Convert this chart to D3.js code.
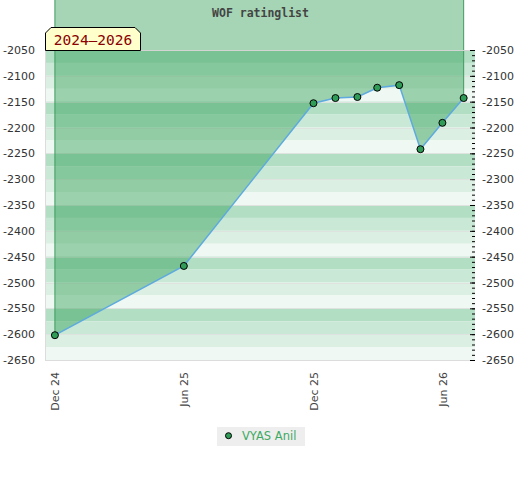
<!DOCTYPE html>
<html><head><meta charset="utf-8">
<script src="https://cdn.jsdelivr.net/npm/d3@7"></script>
<style>
html,body{margin:0;padding:0;background:#fff;}
svg{display:block;}
</style></head>
<body>
<svg id="c" width="520" height="480"></svg>
<script>
// ---- data ----
const dates = ["2024-12-01","2025-06-01","2025-12-01","2026-01-01","2026-02-01","2026-03-01","2026-04-01","2026-05-01","2026-06-01","2026-07-01"];
const values = [-2602,-2468,-2153,-2143,-2141,-2123,-2118,-2242,-2191,-2143];
const seriesName = "VYAS Anil";
const title = "WOF ratinglist";
const rangeLabel = "2024\u20132026";
const xTickDates = ["2024-12-01","2025-06-01","2025-12-01","2026-06-01"];
const xTickLabels = ["Dec 24","Jun 25","Dec 25","Jun 26"];
const yTicks = [-2050,-2100,-2150,-2200,-2250,-2300,-2350,-2400,-2450,-2500,-2550,-2600,-2650];
const xDomain = ["2024-11-17","2026-07-17"];
const yDomain = [-2650,-2050];

const parse = d3.utcParse("%Y-%m-%d");
const data = dates.map((d,i)=>({date:parse(d), v:values[i]}));

const L=45, R=475, T=50, B=360;
const svg = d3.select("#c");
const x = d3.scaleUtc().domain(xDomain.map(parse)).range([L,R]);
const y = d3.scaleLinear().domain(yDomain).range([B,T]);
const fmtY = d => String(d);

// stripes
const stripeCols = ["#b2dec3","#c9e8d5","#dcefe3","#eff8f2"];
const stripes = d3.range(yDomain[1], yDomain[0], -25);
svg.append("g").selectAll("rect").data(stripes).join("rect")
  .attr("x",L).attr("width",R-L)
  .attr("y",d=>y(d)).attr("height",d=>y(d-25)-y(d))
  .attr("fill",(d,i)=>stripeCols[i%4]);

// gridlines
svg.append("g").selectAll("line").data(yTicks).join("line")
  .attr("x1",L).attr("x2",R).attr("y1",d=>Math.round(y(d))+0.5).attr("y2",d=>Math.round(y(d))+0.5)
  .attr("stroke","#dfe3e0").attr("stroke-width",1);

// area fill from line up to the top of the picture
const area = d3.area().x(d=>x(d.date)).y0(0).y1(d=>y(d.v));
svg.append("path").datum(data).attr("d",area)
  .attr("fill","rgb(46,157,83)").attr("fill-opacity",0.43);

// vertical edges
const first = data[0], last = data[data.length-1];
[first,last].forEach(d=>{
  svg.append("line").attr("x1",x(d.date)).attr("x2",x(d.date))
    .attr("y1",0).attr("y2",y(d.v)).attr("stroke","#3f9c5e").attr("stroke-width",1);
});

// plot border
svg.append("line").attr("x1",L).attr("x2",R).attr("y1",T+0.5).attr("y2",T+0.5).attr("stroke","#d4d4d4");
svg.append("line").attr("x1",L).attr("x2",R).attr("y1",B+0.5).attr("y2",B+0.5).attr("stroke","#dcdcdc");
svg.append("line").attr("x1",L+0.5).attr("x2",L+0.5).attr("y1",T).attr("y2",B).attr("stroke","#dcdcdc");

// line
const line = d3.line().x(d=>x(d.date)).y(d=>y(d.v));
svg.append("path").datum(data).attr("d",line)
  .attr("fill","none").attr("stroke","#5eaadf").attr("stroke-width",1.5);

// markers
svg.append("g").selectAll("circle").data(data).join("circle")
  .attr("cx",d=>x(d.date)).attr("cy",d=>y(d.v)).attr("r",3.5)
  .attr("fill","#2f9d58").attr("stroke","#000").attr("stroke-width",1);

// left axis labels
const font = "'DejaVu Sans', sans-serif";
const gl = svg.append("g").attr("transform",`translate(${L},0)`)
  .call(d3.axisLeft(y).tickValues(yTicks).tickSize(0).tickPadding(10).tickFormat(fmtY));
gl.select(".domain").remove();
gl.selectAll("text").attr("fill","#333").style("font-family",font).style("font-size","11px");

// right axis: minor ticks, major ticks, labels
const minor = d3.range(yDomain[1], yDomain[0]-1, -10);
const gm = svg.append("g").attr("transform",`translate(${R},0)`)
  .call(d3.axisLeft(y).tickValues(minor).tickSize(3).tickFormat(""));
gm.select(".domain").remove();
gm.selectAll("line").attr("stroke","#000");
const gM = svg.append("g").attr("transform",`translate(${R},0)`)
  .call(d3.axisLeft(y).tickValues(yTicks).tickSize(5).tickFormat(""));
gM.select(".domain").remove();
gM.selectAll("line").attr("stroke","#000");
const gr = svg.append("g").attr("transform",`translate(${R},0)`)
  .call(d3.axisRight(y).tickValues(yTicks).tickSize(0).tickPadding(7).tickFormat(fmtY));
gr.select(".domain").remove();
gr.selectAll("text").attr("fill","#333").style("font-family",font).style("font-size","11px");

// x axis labels
const gx = svg.append("g").attr("transform",`translate(0,${B})`)
  .call(d3.axisBottom(x).tickValues(xTickDates.map(parse)).tickSize(0)
    .tickFormat((d,i)=>xTickLabels[i]));
gx.select(".domain").remove();
gx.selectAll("text").attr("transform","rotate(-90)").attr("x",-12).attr("y",0).attr("dy","0.35em")
  .style("text-anchor","end").attr("fill","#444").style("font-family",font).style("font-size","11px");

// title
svg.append("text").attr("x",260.5).attr("y",17).attr("text-anchor","middle")
  .style("font-family","'DejaVu Sans Mono', monospace").style("font-weight","bold")
  .style("font-size","11.5px").attr("fill","#444").text(title);

// range label box
svg.append("path").attr("d","M45.5,50.5 L45.5,33 L51,27.5 L135,27.5 L140.5,33 L140.5,50.5 Z")
  .attr("fill","#ffffcc").attr("stroke","#000").attr("stroke-width",1);
svg.append("text").attr("x",93).attr("y",45).attr("text-anchor","middle")
  .style("font-family","'DejaVu Sans Mono', monospace").style("font-size","14.5px")
  .attr("fill","#8b0000").text(rangeLabel);

// legend
svg.append("rect").attr("x",217).attr("y",427).attr("width",88).attr("height",19).attr("fill","#eeeeee");
svg.append("circle").attr("cx",228.5).attr("cy",435.7).attr("r",3).attr("fill","#2f9d58").attr("stroke","#000").attr("stroke-width",1);
svg.append("text").attr("x",242).attr("y",440).style("font-family",font).style("font-size","11.5px")
  .attr("fill","#3daa63").text(seriesName);
</script>
</body></html>
